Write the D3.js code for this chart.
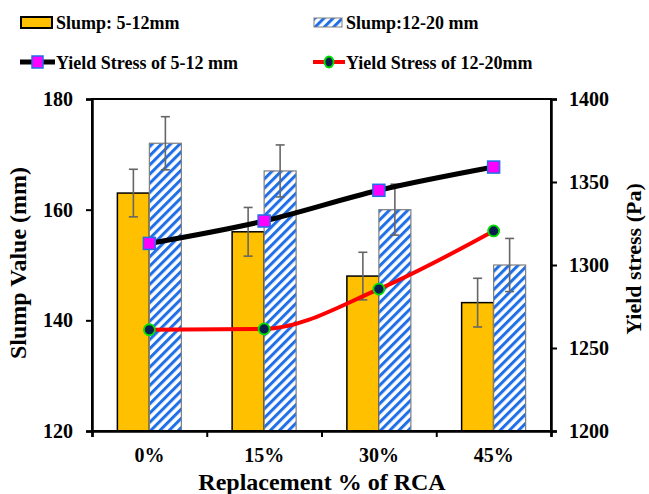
<!DOCTYPE html>
<html lang="en">
<head>
<meta charset="UTF-8">
<title>Slump and yield stress</title>
<script src="https://d3js.org/d3.v7.min.js"></script>
<style>
  html, body { margin: 0; padding: 0; background: #fff; }
</style>
</head>
<body>
<svg id="chart" width="649" height="494"></svg>
<script>
// data
const categories = ["0%", "15%", "30%", "45%"];
const slumpSmall = [163, 156, 148, 143.2];      // 5-12 mm
const slumpSmallErr = [4.3, 4.4, 4.3, 4.4];
const slumpLarge = [172, 167, 160, 150];        // 12-20 mm
const slumpLargeErr = [4.8, 4.7, 4.6, 4.8];
const yieldSmall = [1313, 1326.5, 1345, 1359];  // Pa
const yieldLarge = [1261, 1261.5, 1285.5, 1320.5];
const leftTicks = [120, 140, 160, 180];
const rightTicks = [1200, 1250, 1300, 1350, 1400];

const FONT = "Liberation Serif";
const svg = d3.select("#chart");
const m = { left: 92, right: 551, top: 99, bottom: 431 };

const x = d3.scaleBand().domain(categories).range([m.left, m.right]);
const yL = d3.scaleLinear().domain([120, 180]).range([m.bottom, m.top]);
const yR = d3.scaleLinear().domain([1200, 1400]).range([m.bottom, m.top]);
const barW = 32;

// hatch pattern for the 12-20 mm bars
const defs = svg.append("defs");
const pat = defs.append("pattern")
    .attr("id", "hatch")
    .attr("patternUnits", "userSpaceOnUse")
    .attr("width", 6.5).attr("height", 6.5)
    .attr("patternTransform", "rotate(45)");
pat.append("rect").attr("width", 6.5).attr("height", 6.5).attr("fill", "#fff");
pat.append("rect").attr("width", 3).attr("height", 6.5).attr("fill", "#1f6fe8");

// bars
svg.append("g").selectAll("rect")
    .data(categories)
    .join("rect")
    .attr("x", d => x(d) + x.bandwidth() / 2 - barW)
    .attr("y", (d, i) => yL(slumpSmall[i]))
    .attr("width", barW)
    .attr("height", (d, i) => yL(120) - yL(slumpSmall[i]))
    .attr("fill", "#ffc000")
    .attr("stroke", "#000")
    .attr("stroke-width", 1.5);

svg.append("g").selectAll("rect")
    .data(categories)
    .join("rect")
    .attr("x", d => x(d) + x.bandwidth() / 2)
    .attr("y", (d, i) => yL(slumpLarge[i]))
    .attr("width", barW)
    .attr("height", (d, i) => yL(120) - yL(slumpLarge[i]))
    .attr("fill", "url(#hatch)")
    .attr("stroke", "#7f7f7f")
    .attr("stroke-width", 1.2);

// error bars
function errorBars(vals, errs, offset) {
    const g = svg.append("g").attr("stroke", "#666").attr("stroke-width", 1.6).attr("fill", "none");
    categories.forEach((c, i) => {
        const cx = x(c) + x.bandwidth() / 2 + offset;
        const y1 = yL(vals[i] + errs[i]), y2 = yL(vals[i] - errs[i]);
        g.append("line").attr("x1", cx).attr("x2", cx).attr("y1", y1).attr("y2", y2);
        g.append("line").attr("x1", cx - 4.5).attr("x2", cx + 4.5).attr("y1", y1).attr("y2", y1);
        g.append("line").attr("x1", cx - 4.5).attr("x2", cx + 4.5).attr("y1", y2).attr("y2", y2);
    });
}
errorBars(slumpSmall, slumpSmallErr, -barW / 2);
errorBars(slumpLarge, slumpLargeErr, barW / 2);

// plot frame
svg.append("rect")
    .attr("x", m.left).attr("y", m.top)
    .attr("width", m.right - m.left).attr("height", m.bottom - m.top)
    .attr("fill", "none").attr("stroke", "#000").attr("stroke-width", 2);

// yield stress lines
const cx = d => x(d) + x.bandwidth() / 2;
const lineGen = vals => d3.line()
    .x(d => cx(d))
    .y((d, i) => yR(vals[i]))
    .curve(d3.curveMonotoneX)(categories);

svg.append("path").attr("d", lineGen(yieldSmall))
    .attr("fill", "none").attr("stroke", "#000").attr("stroke-width", 5);
svg.append("path").attr("d", lineGen(yieldLarge))
    .attr("fill", "none").attr("stroke", "#ff0000").attr("stroke-width", 4);

svg.append("g").selectAll("rect")
    .data(categories)
    .join("rect")
    .attr("x", d => cx(d) - 6)
    .attr("y", (d, i) => yR(yieldSmall[i]) - 6)
    .attr("width", 12).attr("height", 12)
    .attr("fill", "#ff00ff").attr("stroke", "#1f6fe8").attr("stroke-width", 1.5);

svg.append("g").selectAll("circle")
    .data(categories)
    .join("circle")
    .attr("cx", d => cx(d))
    .attr("cy", (d, i) => yR(yieldLarge[i]))
    .attr("r", 5.5)
    .attr("fill", "#0b1f4f").attr("stroke", "#00e000").attr("stroke-width", 1.8);

// axes
const leftAxis = svg.append("g")
    .attr("transform", `translate(${m.left},0)`)
    .call(d3.axisLeft(yL).tickValues(leftTicks).tickSize(6).tickPadding(13));
const rightAxis = svg.append("g")
    .attr("transform", `translate(${m.right},0)`)
    .call(d3.axisRight(yR).tickValues(rightTicks).tickFormat(d3.format("d")).tickSize(6).tickPadding(12));
const xTicks = d3.scaleLinear().domain([0, 4]).range([m.left, m.right]);
const bottomAxis = svg.append("g")
    .attr("transform", `translate(0,${m.bottom})`)
    .call(d3.axisBottom(xTicks).tickValues([0, 1, 2, 3, 4]).tickSize(6).tickFormat(""));
[leftAxis, rightAxis, bottomAxis].forEach(a => {
    a.select(".domain").attr("stroke-width", 2.5);
    a.selectAll(".tick line").attr("stroke-width", 2);
    a.selectAll("text")
        .attr("fill", "#000")
        .attr("font-family", FONT)
        .attr("font-weight", "bold")
        .attr("font-size", 20);
});

// helper for all other text
function label(sel, size) {
    return sel.attr("font-family", FONT).attr("font-weight", "bold").attr("font-size", size).attr("fill", "#000");
}

svg.append("g").selectAll("text")
    .data(categories)
    .join("text")
    .call(label, 20)
    .attr("x", d => cx(d))
    .attr("y", 462)
    .attr("text-anchor", "middle")
    .text(d => d);

// axis titles
svg.append("text").call(label, 24)
    .attr("transform", "translate(26,263) rotate(-90)")
    .attr("text-anchor", "middle")
    .text("Slump Value (mm)");
svg.append("text").call(label, 22)
    .attr("transform", "translate(641,259) rotate(-90)")
    .attr("text-anchor", "middle")
    .text("Yield stress (Pa)");
svg.append("text").call(label, 24)
    .attr("x", 322).attr("y", 490)
    .attr("text-anchor", "middle")
    .text("Replacement % of RCA");

// legend
const lg = svg.append("g");
lg.append("rect").attr("x", 21).attr("y", 17).attr("width", 31).attr("height", 11)
    .attr("fill", "#ffc000").attr("stroke", "#000").attr("stroke-width", 2);
lg.append("text").call(label, 18).attr("x", 56).attr("y", 29).text("Slump: 5-12mm");

lg.append("rect").attr("x", 314).attr("y", 18).attr("width", 28).attr("height", 9)
    .attr("fill", "url(#hatch)").attr("stroke", "#7f7f7f").attr("stroke-width", 1);
lg.append("text").call(label, 18).attr("x", 346).attr("y", 29).text("Slump:12-20 mm");

lg.append("line").attr("x1", 20).attr("x2", 55).attr("y1", 62).attr("y2", 62)
    .attr("stroke", "#000").attr("stroke-width", 5);
lg.append("rect").attr("x", 32).attr("y", 56).attr("width", 11).attr("height", 12)
    .attr("fill", "#ff00ff").attr("stroke", "#1f6fe8").attr("stroke-width", 1.5);
lg.append("text").call(label, 18).attr("x", 56).attr("y", 69).text("Yield Stress of 5-12 mm");

lg.append("line").attr("x1", 313).attr("x2", 345).attr("y1", 62).attr("y2", 62)
    .attr("stroke", "#ff0000").attr("stroke-width", 4);
lg.append("ellipse").attr("cx", 329).attr("cy", 62).attr("rx", 4.5).attr("ry", 5.5)
    .attr("fill", "#0b1f4f").attr("stroke", "#00e000").attr("stroke-width", 1.8);
lg.append("text").call(label, 18).attr("x", 346).attr("y", 69).text("Yield Stress of 12-20mm");
</script>
</body>
</html>
